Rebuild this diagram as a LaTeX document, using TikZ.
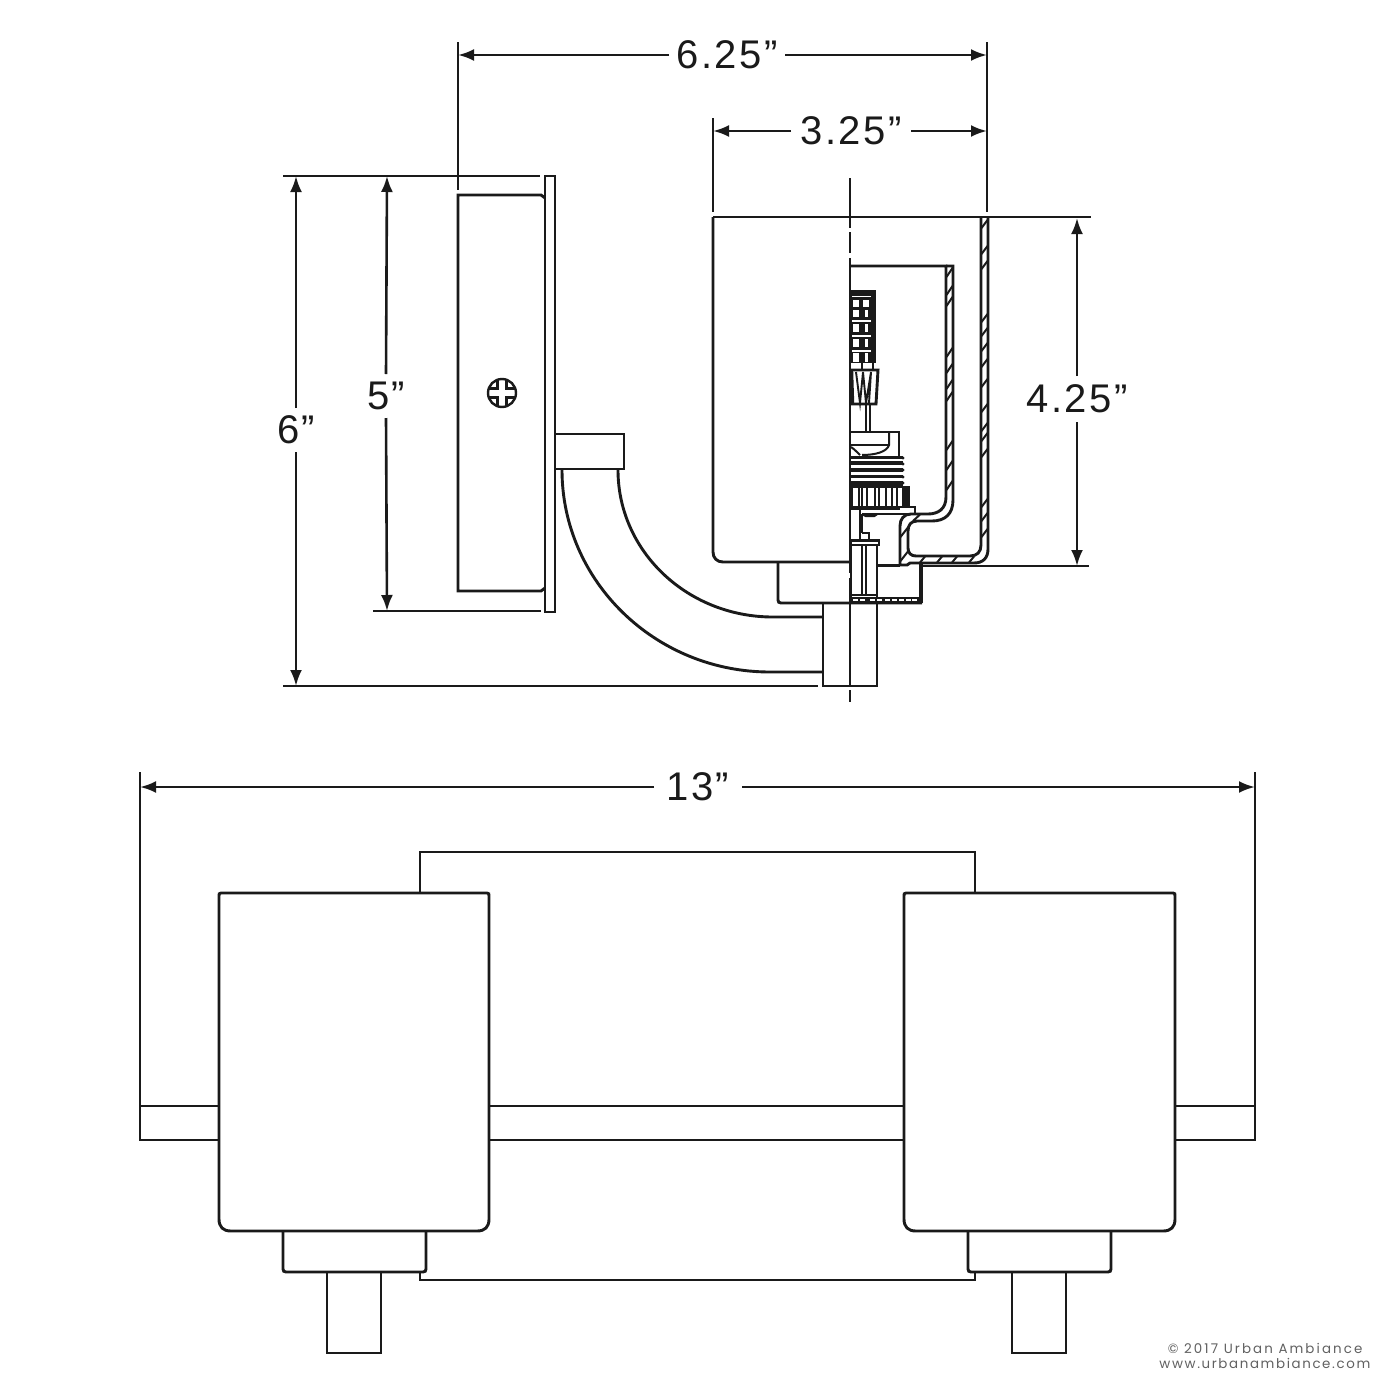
\documentclass[tikz,border=0pt]{standalone}
\usepackage{fontspec}
\setmainfont{Liberation Sans}
\newfontfamily\dimfont[LetterSpace=6]{Liberation Sans}
\newfontfamily\wmfont[LetterSpace=12]{Poppins}
\newfontfamily\wmfontb[LetterSpace=15.5]{Poppins}
\usetikzlibrary{arrows.meta}
\definecolor{ink}{HTML}{1A1A1A}
\tikzset{
  x=1pt,y=-1pt,
  ln/.style={draw=ink,line width=2.9pt,line cap=butt,line join=miter},
  thin ln/.style={draw=ink,line width=2pt},
  hatchln/.style={draw=ink,line width=2pt},
  extln/.style={draw=ink,line width=2.6pt},
  dimarrow/.style={draw=ink,line width=2.6pt,-{Latex[length=16pt,width=12pt]}},
  dimtext/.style={text=ink,font=\dimfont\fontsize{40}{40}\selectfont,inner sep=0pt,outer sep=0pt},
  wm/.style={text=black!62,font=\wmfont\fontsize{13.4}{14}\selectfont,inner sep=0pt},
  wmb/.style={text=black!62,font=\wmfontb\fontsize{13.4}{14}\selectfont,inner sep=0pt},
}
\begin{document}
\begin{tikzpicture}
\useasboundingbox (0,0) rectangle (1400,1400);
\fill[white] (0,0) rectangle (1400,1400);

%% ---- dimension lines, upper view ----
\coordinate (wL) at (458,55); \coordinate (wR) at (987,55);
\node[dimtext,minimum width=116pt] (w625) at (727,55) {6.25”};
\draw[dimarrow] (w625.west) -- (wL);
\draw[dimarrow] (w625.east) -- (wR);

\coordinate (sL) at (713,131); \coordinate (sR) at (987,131);
\node[dimtext,minimum width=120pt] (w325) at (851,131) {3.25”};
\draw[dimarrow] (w325.west) -- (sL);
\draw[dimarrow] (w325.east) -- (sR);

\coordinate (h6T) at (296,176); \coordinate (h6B) at (296,686);
\node[dimtext,minimum height=44pt] (h6) at (296,430) {6”};
\draw[dimarrow] (h6.north) -- (h6T);
\draw[dimarrow] (h6.south) -- (h6B);

\coordinate (h5T) at (387,176); \coordinate (h5B) at (387,611);
\node[dimtext,minimum height=44pt] (h5) at (386,396) {5”};
\draw[dimarrow] (h5.north) -- (h5T);
\draw[dimarrow] (h5.south) -- (h5B);

\coordinate (h4T) at (1077,218); \coordinate (h4B) at (1077,566);
\node[dimtext,minimum height=46pt] (h425) at (1077,399) {4.25”};
\draw[dimarrow] (h425.north) -- (h4T);
\draw[dimarrow] (h425.south) -- (h4B);

\draw[extln] (458,42) -- (458,190);
\draw[extln] (987,42) -- (987,212);
\draw[extln] (713,118) -- (713,212);
\draw[extln] (283,176) -- (540,176);
\draw[extln] (373,611) -- (541,611);
\draw[extln] (283,686) -- (818,686);
\draw[extln] (713,217) -- (1091,217);
\draw[extln] (921,566) -- (1089,566);

%% ---- wall plate ----
\draw[ln] (545,176) -- (555,176) -- (555,612) -- (545,612) -- cycle;
\draw[ln] (545,198) -- (541,195) -- (458,195) -- (458,591) -- (541,591) -- (545,588);
%% screw
\draw[draw=ink,line width=2.4pt] (502,393) circle (14);
\draw[draw=ink,line width=2.2pt] (497.5,379.5) -- (497.5,388.5) -- (488.5,388.5);
\draw[draw=ink,line width=2.2pt] (506.5,379.5) -- (506.5,388.5) -- (515.5,388.5);
\draw[draw=ink,line width=2.2pt] (497.5,406.5) -- (497.5,397.5) -- (488.5,397.5);
\draw[draw=ink,line width=2.2pt] (506.5,406.5) -- (506.5,397.5) -- (515.5,397.5);

%% ---- arm ----
\draw[ln] (555,434) -- (624,434) -- (624,469) -- (555,469);
\draw[ln] (618,470) .. controls (618,551) and (687,617) .. (773,617) -- (823,617);
\draw[ln] (562,470) .. controls (562,581) and (655,672) .. (770,672) -- (823,672);
\draw[ln] (823,603) -- (823,686) -- (877,686) -- (877,603);

%% ---- shade, left half ----
\draw[ln] (713,217) -- (713,552) .. controls (713,558) and (717,562) .. (723,562) -- (850,562);
%% cup under shade
\draw[ln] (778,562) -- (778,600) .. controls (778,602) and (779,603) .. (781,603) -- (922,603);
\draw[draw=ink,line width=4pt] (921,563) -- (921,603);

%% ---- glass section, outer surface ----
\draw[ln] (850,266) -- (946,266) -- (946,497)
  .. controls (946,509) and (938,514) .. (928,514) -- (911,514)
  .. controls (904,514) and (900,519) .. (900,526) -- (900,565) -- (907,565) -- (910,563) -- (974,563)
  .. controls (983,563) and (988,558) .. (988,549) -- (988,217);
\draw[ln] (946,266) -- (953,266) -- (953,500)
  .. controls (953,514) and (945,521) .. (932,521) -- (917,521)
  .. controls (911,521) and (908,525) .. (908,531) -- (908,548)
  .. controls (908,553) and (911,556) .. (916,556) -- (970,556)
  .. controls (977,556) and (981,552) .. (981,545) -- (981,217);
%% hatching inner wall
\foreach \yy in {272,290,301,352,368,384,396,445,465,485}
  \draw[hatchln] (946.5,\yy+5) -- (952.5,\yy-4);
%% hatching outer wall
\foreach \yy in {224,250,265,318,332,347,363,383,408,427,437,453,503,517,533}
  \draw[hatchln] (981.5,\yy+4) -- (987.5,\yy-4);
%% hatching bottom
\foreach \xx in {923,940,955,972}
  \draw[hatchln] (\xx-3,562.5) -- (\xx+2,556.5);
\draw[hatchln] (900.5,537) -- (907.5,528);
\draw[hatchln] (900.5,561) -- (907.5,552);
\draw[hatchln] (913,521) -- (920,514.5);

%% ---- lamp: filament block ----
\fill[ink] (850,290) rectangle (876,363);
\foreach \yy/\hh in {300/7,310/7,324/8,339/8,353/9}{
  \fill[white] (852.5,\yy) rectangle (859,\yy+\hh);
}
\fill[white] (862.5,300) rectangle (869,307);
\foreach \yy/\hh in {310/7,324/8,339/8,353/9}{
  \fill[white] (865,\yy) rectangle (868,\yy+\hh);
}
\foreach \yy in {295.5,320,335,350}
  \fill[white] (852,\yy) rectangle (871,\yy+1.6);

%% neck above the taper
\draw[thin ln] (861.5,363) -- (861.5,370);
\draw[thin ln] (873,363) -- (873,370);
%% taper
\draw[ln] (851,370) -- (878,370) -- (876,404) -- (851,404) -- cycle;
\draw[draw=ink,line width=2.4pt] (852,371) -- (853,403);
\draw[draw=ink,line width=1.9pt] (856,372) -- (860,403) -- (863,372) -- (866,403) -- (871,372) -- (869,403);
%% stem
\draw[thin ln] (866,404) -- (866,432);
\draw[thin ln] (870,404) -- (870,432);

%% ---- socket head ----
\draw[ln] (850,432) -- (899,432) -- (899,456);
\draw[thin ln] (850,445) -- (889,445);
\draw[thin ln] (889,432) -- (889,445) .. controls (887,452) and (875,455) .. (862,455);
\draw[thin ln] (851,447) .. controls (854,449) and (857,452) .. (860,455);
%% threads
\foreach \ya/\yb in {456/459,460.5/465,468/472,474.5/478,481/485.5}
  \fill[ink] (850,\ya) rectangle (903,\yb);
\foreach \yy in {458,464,470,477,483}
  \fill[ink] (903,\yy) circle (1.7);
%% knurl
\draw[ln] (850,487) -- (908,487) -- (908,507);
\fill[ink] (902,486) rectangle (910,507);
\fill[ink] (850,505.5) rectangle (900,510);
\foreach \xx in {852,859,862,867,875,879,886,892,897}
  \draw[draw=ink,line width=2pt] (\xx,487) -- (\xx,507);
%% collar
\draw[draw=ink,line width=2.4pt] (898,507) -- (915,507) -- (915,514) -- (862,514);
\draw[thin ln] (862,514) -- (862,533);
\draw[draw=ink,line width=2.4pt] (862,514) -- (866,516) -- (874,516) -- (877,514);
\draw[draw=ink,line width=2.4pt] (860,510) -- (860,540);
%% small nub
\draw[thin ln] (862,533) -- (869,533) -- (869,540);
%% nut
\draw[ln] (851,540.5) -- (879,540.5) -- (879,545) -- (851,545) -- cycle;
\draw[ln] (877,545) -- (877,598);
\draw[thin ln] (851,545) -- (851,598);
\draw[draw=ink,line width=2.4pt] (862,545) -- (862,596);
\draw[draw=ink,line width=1.9pt] (866,545) -- (866,596);
\draw[draw=ink,line width=2.4pt] (851,595) -- (877,595);
%% cup floor
\draw[ln] (878,565.5) -- (900,565.5);
\fill[ink] (850,596.5) rectangle (921,603.5);
\foreach \xx in {853,860,870,877,885,892,899,906,912}
  \fill[white] (\xx,599.3) rectangle (\xx+4.5,601);

%% ---- centre line ----
\draw[ln] (850,178) -- (850,228);
\draw[ln] (850,232) -- (850,253);
\draw[ln] (850,258) -- (850,573);
\draw[ln] (850,578) -- (850,685);
\draw[ln] (850,690) -- (850,702);

%% ==== lower view ====
\coordinate (tL) at (140,787); \coordinate (tR) at (1255,787);
\node[dimtext,minimum width=88pt] (w13) at (698,787) {13”};
\draw[dimarrow] (w13.west) -- (tL);
\draw[dimarrow] (w13.east) -- (tR);
\draw[extln] (140,772) -- (140,1106);
\draw[extln] (1255,772) -- (1255,1106);

%% back plate
\draw[ln] (420,893) -- (420,852) -- (975,852) -- (975,893);
\draw[ln] (420,1272) -- (420,1280) -- (975,1280) -- (975,1272);
%% bar
\draw[ln] (219,1106) -- (140,1106) -- (140,1140) -- (219,1140);
\draw[ln] (489,1106) -- (904,1106);
\draw[ln] (489,1140) -- (904,1140);
\draw[ln] (1175,1106) -- (1255,1106) -- (1255,1140) -- (1175,1140);
%% shades and fittings
\foreach \xa/\xb/\xc/\xd/\xe/\xf in {219/489/283/426/327/381,904/1175/968/1111/1012/1066}{
  \draw[ln] (\xa+2,893) -- (\xb-2,893) .. controls (\xb,893) and (\xb,894) .. (\xb,896)
     -- (\xb,1219) .. controls (\xb,1227) and (\xb-4,1231) .. (\xb-12,1231)
     -- (\xa+12,1231) .. controls (\xa+4,1231) and (\xa,1227) .. (\xa,1219)
     -- (\xa,896) .. controls (\xa,894) and (\xa,893) .. (\xa+2,893) -- cycle;
  \draw[ln] (\xc,1231) -- (\xc,1269) .. controls (\xc,1271) and (\xc+1,1272) .. (\xc+3,1272)
     -- (\xd-3,1272) .. controls (\xd-1,1272) and (\xd,1271) .. (\xd,1269) -- (\xd,1231);
  \draw[ln] (\xe,1272) -- (\xe,1353) -- (\xf,1353) -- (\xf,1272);
}

%% ---- mark ----
\node[wmb,anchor=east] (mark1) at (1362.5,1348) {© 2017 Urban Ambiance};
\node[wm,anchor=east] (mark2) at (1370.5,1363.5) {www.urbanambiance.com};
\end{tikzpicture}
\end{document}
